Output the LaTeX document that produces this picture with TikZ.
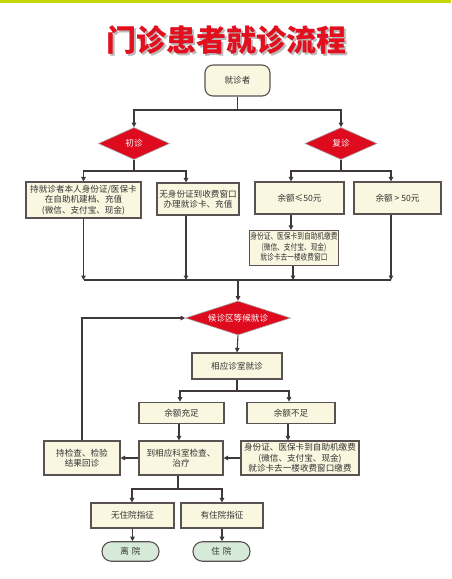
\documentclass[tikz,border=0pt]{standalone}
\usepackage{fontspec}
\usepackage{graphicx}
\newfontfamily\cjk{Noto Sans CJK SC}
\usetikzlibrary{arrows.meta,shapes.geometric}
\definecolor{cream}{HTML}{F9F7DF}
\definecolor{edge}{HTML}{5A5252}
\definecolor{wire}{HTML}{3E3838}
\definecolor{txt}{HTML}{333333}
\definecolor{dred}{HTML}{DE0A1E}
\definecolor{mint}{HTML}{D6EAD9}
\definecolor{lime}{HTML}{C6D800}
\definecolor{tred}{HTML}{E2101E}
\begin{document}
\begin{tikzpicture}[x=1pt,y=-1pt,
  box/.style={draw=edge, fill=cream, line width=1.1pt, inner sep=1pt, align=center,
    font=\cjk\fontsize{8.6}{10.4}\selectfont, text=txt},
  start/.style={box, rounded corners=8pt},
  term/.style={draw=edge, fill=mint, line width=1.1pt, rounded corners=9.5pt, inner sep=1pt,
    font=\cjk\fontsize{8.6}{10.4}\selectfont, text=txt, minimum width=57pt, minimum height=19.5pt},
  dec/.style={shape=diamond, draw=gray!70, fill=dred, line width=0.6pt, inner sep=0pt,
    font=\cjk\fontsize{8.6}{10.4}\selectfont, text=white},
  wireline/.style={draw=wire, line width=1.1pt},
  arr/.style={wireline, -{Triangle[length=4.5pt,width=4.5pt]}}
]
\useasboundingbox (0,0) rectangle (451,579);
\fill[white] (0,0) rectangle (451,579);
\fill[lime] (0,0) rectangle (451,3);

% title
\node[font=\cjk\bfseries\fontsize{30}{32}\selectfont, text=gray!55] at (228.5,42.5) {门诊患者就诊流程};
\node (title) [font=\cjk\bfseries\fontsize{30}{32}\selectfont, text=tred] at (226.5,40) {门诊患者就诊流程};

% nodes
\node (start) [start, minimum width=65pt, minimum height=31pt] at (237.5,80.5) {就诊者};
\node (chu) [dec, minimum width=71pt, minimum height=32pt] at (134,143.5) {\makebox[0pt]{初诊}};
\node (fu) [dec, minimum width=72pt, minimum height=32pt] at (341,143.5) {\makebox[0pt]{复诊}};
\node (A) [box, minimum width=115pt, minimum height=36pt] at (83.5,200) {持就诊者本人身份证/医保卡\\在自助机建档、充值\\(微信、支付宝、现金)};
\node (B) [box, minimum width=82pt, minimum height=32pt] at (198,199) {无身份证到收费窗口\\办理就诊卡、充值};
\node (C) [box, minimum width=89pt, minimum height=32pt] at (299.5,198) {余额≤50元};
\node (D) [box, minimum width=87pt, minimum height=32pt] at (397.5,198) {余额 > 50元};
\node (E) [box, minimum width=88pt, minimum height=35pt] at (294,248) {\scalebox{0.78}[1]{\begin{tabular}{@{}c@{}}身份证、医保卡到自助机缴费\\(微信、支付宝、现金)\\就诊卡去一楼收费窗口\end{tabular}}};
\node (wait) [dec, minimum width=105pt, minimum height=34pt] at (238,318) {\makebox[0pt]{候诊区等候就诊}};
\node (room) [box, minimum width=90pt, minimum height=26pt] at (237,366) {相应诊室就诊};
\node (ok) [box, minimum width=85pt, minimum height=21.5pt] at (181.5,413) {余额充足};
\node (lack) [box, minimum width=88pt, minimum height=21.5pt] at (291,413) {余额不足};
\node (treat) [box, minimum width=84pt, minimum height=34pt] at (181,458) {到相应科室检查、\\治疗};
\node (recheck) [box, minimum width=76pt, minimum height=34pt] at (82,458) {持检查、检验\\结果回诊};
\node (pay) [box, minimum width=118pt, minimum height=34pt] at (300,458) {身份证、医保卡到自助机缴费\\(微信、支付宝、现金)\\就诊卡去一楼收费窗口缴费};
\node (no) [box, minimum width=83pt, minimum height=25pt] at (132.5,515.5) {无住院指征};
\node (yes) [box, minimum width=82pt, minimum height=25pt] at (222,515.5) {有住院指征};
\node (leave) [term] at (130.5,551.5) {离\hspace{3pt}院};
\node (hosp) [term] at (221.5,551.5) {住\hspace{3pt}院};

% junction coordinates
\coordinate (j0) at (237.5,110);
\coordinate (j1) at (134,171);
\coordinate (j2) at (341,171);
\coordinate (j3) at (238,280);
\coordinate (j4) at (237,391);
\coordinate (j5) at (178,489);

% connectors
\draw[wireline] (start.south) -- (j0);
\draw[arr] (j0) -| (chu.north);
\draw[arr] (j0) -| (fu.north);

\draw[wireline] (chu.south) -- (j1);
\draw[arr] (j1) -| (A.north);
\draw[arr] (j1) -| ([xshift=-12pt]B.north);

\draw[wireline] (fu.south) -- (j2);
\draw[arr] (j2) -| ([xshift=-8.5pt]C.north);
\draw[arr] (j2) -| ([xshift=-6.5pt]D.north);

\draw[arr] ([xshift=-8.5pt]C.south) -- ([xshift=-3pt]E.north);

\draw[arr] (A.south) -- (A.south |- j3);
\draw[arr] ([xshift=-12pt]B.south) -- ([xshift=-12pt]B.south |- j3);
\draw[arr] ([xshift=-1pt]E.south) -- ([xshift=-1pt]E.south |- j3);
\draw[arr] ([xshift=-6.5pt]D.south) -- ([xshift=-6.5pt]D.south |- j3);
\draw[wireline] (A.south |- j3) -- ([xshift=-6.5pt]D.south |- j3);
\draw[arr] (j3) -- (wait.north);

\draw[arr] (wait.south) -- (room.north);
\draw[wireline] (room.south) -- (j4);
\draw[arr] (j4) -| ([xshift=-1.5pt]ok.north);
\draw[arr] (j4) -| ([xshift=-2pt]lack.north);

\draw[arr] ([xshift=-2.5pt]ok.south) -- ([xshift=-2pt]treat.north);
\draw[arr] ([xshift=-3pt]lack.south) -- ([xshift=-12pt]pay.north);
\draw[arr] (pay.west) -- (treat.east);
\draw[arr] (treat.west) -- (recheck.east);
\draw[arr] (recheck.north) |- (wait.west);

\draw[wireline] ([xshift=-3pt]treat.south) -- (j5);
\draw[arr] (j5) -| ([xshift=-0.5pt]no.north);
\draw[arr] (j5) -| (yes.north);
\draw[arr] (no.south) -- ([xshift=2pt]leave.north);
\draw[arr] (yes.south) -- ([xshift=0.5pt]hosp.north);
\end{tikzpicture}
\end{document}
